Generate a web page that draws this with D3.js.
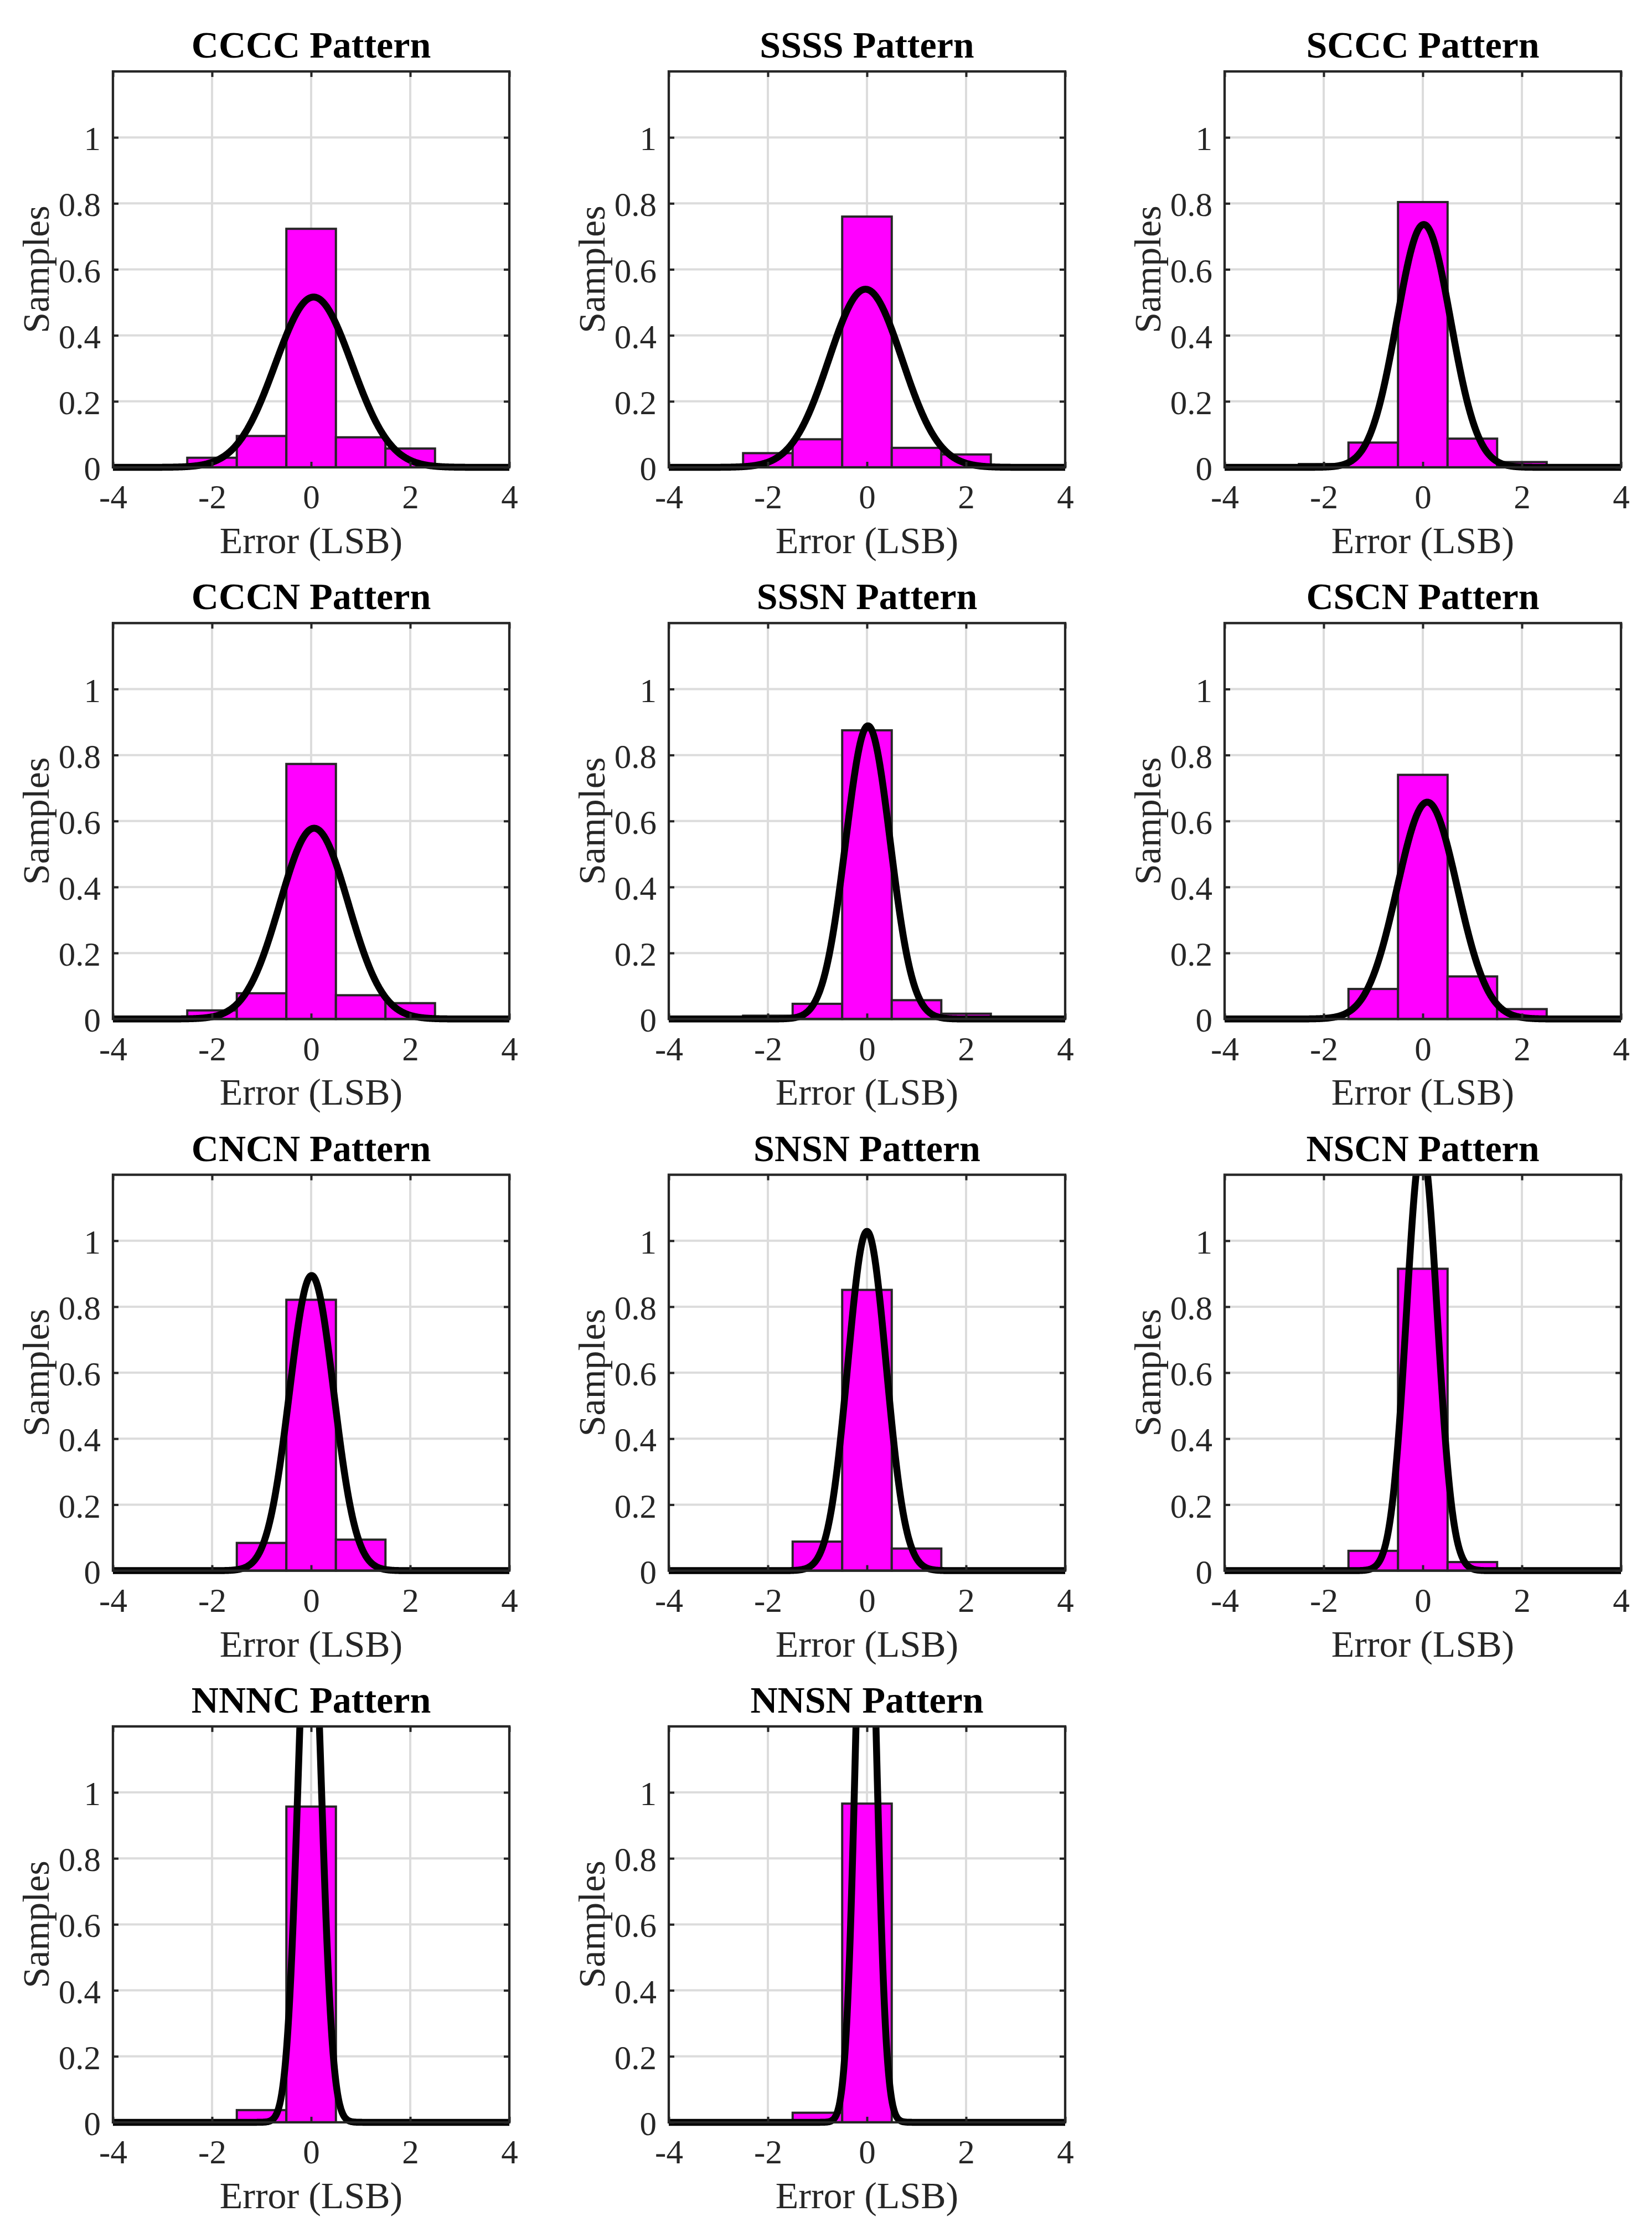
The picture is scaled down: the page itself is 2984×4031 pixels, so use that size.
<!DOCTYPE html>
<html>
<head>
<meta charset="utf-8">
<script src="https://cdn.jsdelivr.net/npm/d3@7"></script>
<style>
    body { margin: 0; background: #fff; }
    text { font-family: "Liberation Serif", "Times New Roman", serif; }
</style>
</head>
<body>
<svg id="chart"></svg>
<script>
// histogram bins (LSB) and axis ticks shared by all panels
var binCenters = [-2, -1, 0, 1, 2];
var xTicks = [-4, -2, 0, 2, 4];
var yTicks = [0, 0.2, 0.4, 0.6, 0.8, 1];

var patterns = ["CCCC", "SSSS", "SCCC", "CCCN", "SSSN", "CSCN",
                "CNCN", "SNSN", "NSCN", "NNNC", "NNSN"];

// normalised bar heights per pattern
var cccc = [0.029, 0.095, 0.723, 0.091, 0.057];
var ssss = [0.043, 0.085, 0.760, 0.059, 0.039];
var sccc = [0.010, 0.075, 0.804, 0.087, 0.016];
var cccn = [0.026, 0.078, 0.773, 0.072, 0.048];
var sssn = [0.010, 0.046, 0.875, 0.057, 0.016];
var cscn = [0.000, 0.091, 0.740, 0.129, 0.030];
var cncn = [0.000, 0.084, 0.821, 0.094, 0.000];
var snsn = [0.000, 0.088, 0.851, 0.067, 0.000];
var nscn = [0.000, 0.060, 0.915, 0.026, 0.000];
var nnnc = [0.000, 0.037, 0.957, 0.000, 0.000];
var nnsn = [0.000, 0.029, 0.966, 0.000, 0.000];

// normal fit (mean, std) of each pattern
var fitMu    = [0.05, -0.03, 0.02, 0.06, 0.02, 0.09, 0.01, 0.00, -0.02, -0.03, -0.02];
var fitSigma = [0.773, 0.739, 0.542, 0.690, 0.449, 0.607, 0.446, 0.388, 0.310, 0.230, 0.200];

var heights = [cccc, ssss, sccc, cccn, sssn, cscn, cncn, snsn, nscn, nnnc, nnsn];

var W = 2984, H = 4031;
var plotW = 716, plotH = 715;
var left0 = 204, colStep = 1004;
var top0 = 129, rowStep = 996.3;
var axisColor = "#262626";

var svg = d3.select("#chart")
        .attr("width", W)
        .attr("height", H)
        .attr("viewBox", "0 0 " + W + " " + H);

svg.append("rect").attr("width", W).attr("height", H).attr("fill", "#fff");

var x = d3.scaleLinear().domain([-4, 4]).range([0, plotW]);
var y = d3.scaleLinear().domain([0, 1.2]).range([plotH, 0]);

function normalPdf(v, mu, s) {
    return Math.exp(-0.5 * Math.pow((v - mu) / s, 2)) / (s * Math.sqrt(2 * Math.PI));
}

var curveX = d3.range(-4, 4.0001, 0.01);

patterns.forEach(function(name, i) {
    var col = i % 3, row = Math.floor(i / 3);
    var g = svg.append("g")
            .attr("transform", "translate(" + (left0 + col * colStep) + "," + (top0 + row * rowStep) + ")");

    // grid
    g.append("g").selectAll("line.gx")
            .data(xTicks).enter().append("line")
            .attr("x1", function(d) { return x(d); })
            .attr("x2", function(d) { return x(d); })
            .attr("y1", 0).attr("y2", plotH)
            .style("stroke", "#dcdcdc").style("stroke-width", 4);
    g.append("g").selectAll("line.gy")
            .data(yTicks).enter().append("line")
            .attr("y1", function(d) { return y(d); })
            .attr("y2", function(d) { return y(d); })
            .attr("x1", 0).attr("x2", plotW)
            .style("stroke", "#dcdcdc").style("stroke-width", 4);

    // bars
    var bins = binCenters.map(function(c, k) { return {c: c, h: heights[i][k]}; })
            .filter(function(d) { return d.h > 0; });
    g.append("g").selectAll("rect")
            .data(bins).enter().append("rect")
            .attr("x", function(d) { return x(d.c - 0.5); })
            .attr("width", function(d) { return x(d.c + 0.5) - x(d.c - 0.5); })
            .attr("y", function(d) { return y(d.h); })
            .attr("height", function(d) { return y(0) - y(d.h); })
            .style("fill", "#ff00ff")
            .style("stroke", axisColor)
            .style("stroke-width", 4);

    // fitted curve, clipped at the top of the axes
    var clipId = "clip" + i;
    g.append("clipPath").attr("id", clipId)
            .append("rect")
            .attr("x", -10).attr("y", 0)
            .attr("width", plotW + 20).attr("height", plotH + 30);
    var line = d3.line()
            .x(function(d) { return x(d); })
            .y(function(d) { return y(normalPdf(d, fitMu[i], fitSigma[i])); });
    g.append("path")
            .datum(curveX)
            .attr("clip-path", "url(#" + clipId + ")")
            .attr("d", line)
            .style("fill", "none")
            .style("stroke", "#000")
            .style("stroke-width", 12.5)
            .style("stroke-linejoin", "round");

    // axes (plain hyphen for negatives, like the original)
    var fmt = function(d) { return String(d); };
    var ax = g.append("g").attr("transform", "translate(0," + plotH + ")")
            .call(d3.axisBottom(x).tickValues(xTicks).tickFormat(fmt)
                    .tickSizeInner(-10).tickSizeOuter(0).tickPadding(31));
    var ay = g.append("g")
            .call(d3.axisLeft(y).tickValues(yTicks).tickFormat(fmt)
                    .tickSizeInner(-10).tickSizeOuter(0).tickPadding(22));
    var at = g.append("g")
            .call(d3.axisTop(x).tickValues(xTicks).tickFormat("")
                    .tickSizeInner(-10).tickSizeOuter(0));
    var ar = g.append("g").attr("transform", "translate(" + plotW + ",0)")
            .call(d3.axisRight(y).tickValues(yTicks).tickFormat("")
                    .tickSizeInner(-10).tickSizeOuter(0));

    [ax, ay, at, ar].forEach(function(a) {
        a.select(".domain").remove();
        a.selectAll(".tick line").style("stroke", axisColor).style("stroke-width", 4);
        a.selectAll(".tick text")
                .style("font-size", "61px")
                .style("font-family", "'Liberation Serif', 'Times New Roman', serif")
                .style("fill", axisColor);
    });
    ay.selectAll(".tick text").attr("dy", "0.37em");

    g.append("rect")
            .attr("width", plotW).attr("height", plotH)
            .style("fill", "none")
            .style("stroke", axisColor)
            .style("stroke-width", 4.3);

    // labels
    g.append("text")
            .attr("x", plotW / 2).attr("y", -25)
            .attr("text-anchor", "middle")
            .style("font-size", "68px").style("font-weight", "bold")
            .style("fill", "#000")
            .text(name + " Pattern");
    g.append("text")
            .attr("x", plotW / 2).attr("y", plotH + 155)
            .attr("text-anchor", "middle")
            .style("font-size", "68px").style("fill", axisColor)
            .text("Error (LSB)");
    g.append("text")
            .attr("transform", "translate(-116," + (plotH / 2) + ") rotate(-90)")
            .attr("text-anchor", "middle")
            .style("font-size", "68px").style("fill", axisColor)
            .text("Samples");
});
</script>
</body>
</html>
